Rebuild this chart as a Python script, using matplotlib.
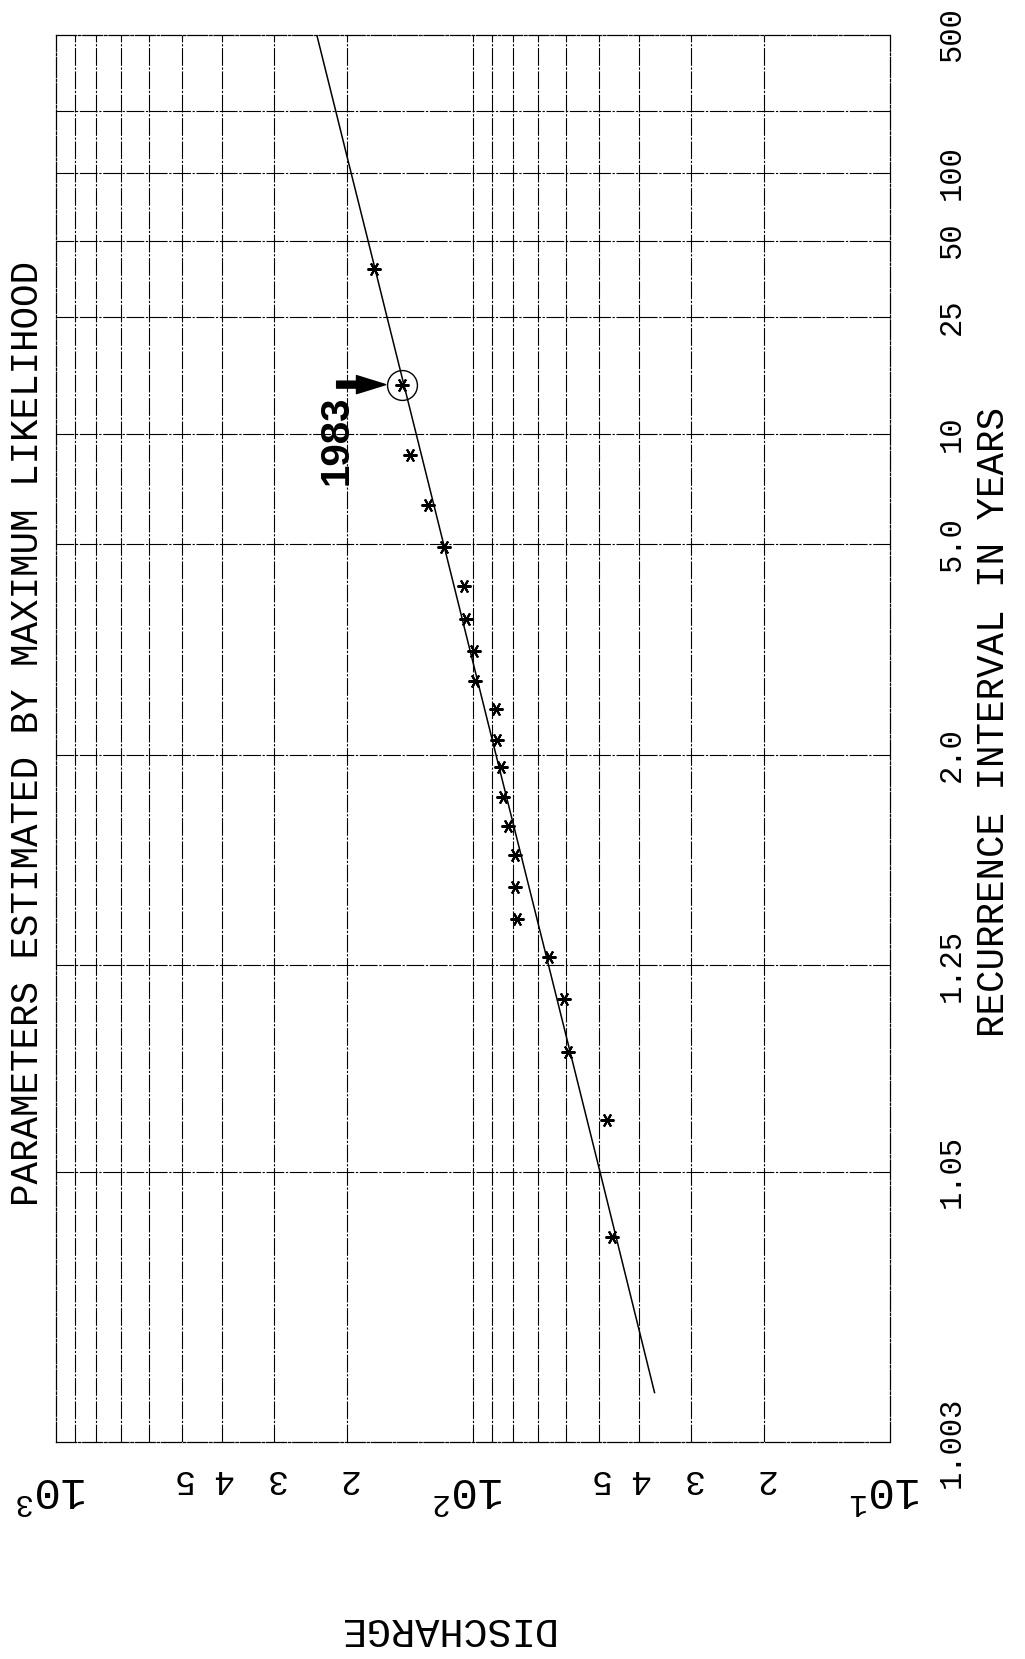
import numpy as np
import matplotlib
matplotlib.use('Agg')
import matplotlib.pyplot as plt
from statistics import NormalDist

# escala de probabilidad normal para el intervalo de recurrencia
nd = NormalDist()
v_inv = np.vectorize(nd.inv_cdf, otypes=[float])
v_cdf = np.vectorize(nd.cdf, otypes=[float])


def t_a_z(T):
    T = np.clip(np.asarray(T, float), 1.000001, 1e7)
    return v_inv(np.clip(1 - 1 / T, 1e-9, 1 - 1e-9))


def z_a_t(z):
    z = np.clip(np.asarray(z, float), -7, 7)
    return 1 / (1 - v_cdf(z))


# datos
ri_ticks = [1.003, 1.05, 1.25, 2.0, 5.0, 10, 25, 50, 100, 500]
ri_labels = ['1.003', '1.05', '1.25', '2.0', '5.0', '10', '25', '50', '100', '500']
ri_grid = [1.05, 1.25, 2.0, 5.0, 10, 25, 50, 100, 200]

q_grid = [20, 30, 40, 50, 60, 70, 80, 90, 100, 200, 300, 400, 500, 600, 700, 800, 900]
q_small = [20, 30, 40, 50, 200, 300, 400, 500]
q_small_labels = ['2', '3', '4', '5', '2', '3', '4', '5']
q_decades = [10, 100, 1000]
q_decade_labels = [r'$\mathregular{10^1}$', r'$\mathregular{10^2}$', r'$\mathregular{10^3}$']

# observaciones (asteriscos)
obs_T = [38.3, 14.4, 8.67, 6.30, 4.91, 4.01, 3.41, 2.95, 2.60, 2.34, 2.10,
         1.926, 1.763, 1.632, 1.524, 1.426, 1.344, 1.264, 1.196, 1.133, 1.0775, 1.0276]
obs_Q = [172.3, 148.3, 141.6, 128.4, 117.3, 105.1, 103.9, 99.4, 98.9, 88.1, 87.6,
         85.7, 84.8, 82.4, 79.3, 79.3, 78.4, 65.7, 60.5, 59.2, 47.7, 46.4]

# curva ajustada (maxima verosimilitud)
fit_T = [1.0054, 1.05, 1.25, 2, 5, 10, 25, 50, 100, 200, 500]
fit_Q = [36.7, 49.6, 65.9, 88.1, 117.6, 136.8, 160.8, 178.4, 196.0, 213.5, 236.9]

year_label = '1983'
year_T, year_Q = 14.4, 148.3

plt.rcParams['font.family'] = ['Liberation Mono', 'DejaVu Sans Mono']
plt.rcParams['mathtext.default'] = 'regular'

fig = plt.figure(figsize=(10.25, 16.59), dpi=100)
ax = fig.add_axes([56 / 1025, 217 / 1659, 834 / 1025, 1407 / 1659])

ax.set_xscale('log')
ax.set_yscale('function', functions=(t_a_z, z_a_t))
ax.set_xlim(1000, 10)
ax.set_ylim(1.003, 500)

estilo = dict(color='black', lw=0.8, ls=(0, (16, 1.5, 2, 1.5)))
for q in q_grid:
    ax.axvline(q, **estilo)
for t in ri_grid:
    ax.axhline(t, **estilo)
for sp in ax.spines.values():
    sp.set_linestyle((0, (16, 1.5, 2, 1.5)))
    sp.set_linewidth(0.9)

ax.set_xticks([])
ax.set_xticks([], minor=True)
ax.set_yticks([])
ax.set_yticks([], minor=True)

# curva y puntos
ax.plot(fit_Q, fit_T, color='black', lw=1.1)
ax.plot(obs_Q, obs_T, ls='none', marker=(6, 2, 90), ms=10, mew=1.5, color='black')
ax.plot([year_Q], [year_T], ls='none', marker='o', ms=21.5, mfc='none', mec='black', mew=1.0)

# flecha y año
ax.annotate('', xy=(year_Q, year_T), xytext=(-65, 0), textcoords='offset pixels',
            arrowprops=dict(arrowstyle='simple,head_length=21,head_width=13,tail_width=5',
                            mutation_scale=1, color='black', shrinkA=0, shrinkB=11.5))
ax.annotate(year_label, xy=(year_Q, year_T), xytext=(-65, -56), textcoords='offset pixels',
            rotation=90, ha='center', va='center', fontsize=29,
            family='Liberation Sans', fontweight='bold')

# etiquetas de intervalo de recurrencia
for t, lab in zip(ri_ticks, ri_labels):
    ax.annotate(lab, xy=(1, t), xycoords=('axes fraction', 'data'), xytext=(62, 0),
                textcoords='offset pixels', rotation=90, ha='center', va='center', fontsize=22)

# etiquetas de caudal (invertidas)
for q, lab in zip(q_small, q_small_labels):
    ax.annotate(lab, xy=(q, 0), xycoords=('data', 'axes fraction'), xytext=(0, -37),
                textcoords='offset pixels', rotation=180, ha='center', va='center', fontsize=25)
for q, lab in zip(q_decades, q_decade_labels):
    ax.annotate(lab, xy=(q, 0), xycoords=('data', 'axes fraction'), xytext=(-4, -47),
                textcoords='offset pixels', rotation=180, ha='center', va='center', fontsize=32)

fig.text(28 / 1025, 1 - 733 / 1659, 'PARAMETERS ESTIMATED BY MAXIMUM LIKELIHOOD',
         rotation=90, ha='center', va='center', fontsize=27)
fig.text(994 / 1025, 1 - 722 / 1659, 'RECURRENCE INTERVAL IN YEARS',
         rotation=90, ha='center', va='center', fontsize=27)
fig.text(444 / 1025, 1 - 1629 / 1659, 'DISCHARGE',
         rotation=180, ha='center', va='center', fontsize=29)

fig.savefig('out.png', dpi=100, facecolor='white')
